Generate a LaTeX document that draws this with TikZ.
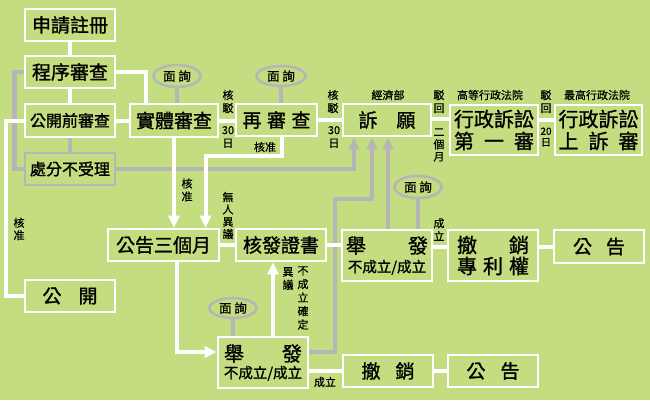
\documentclass[tikz,border=0pt]{standalone}
\usepackage{fontspec}
\setmainfont{Noto Sans CJK TC}
\newfontfamily\medfont{Noto Sans CJK TC}[FakeBold=1.2]
\newfontfamily\smfont{Noto Sans CJK TC}[FakeBold=0.5]
\usetikzlibrary{shapes.geometric,arrows.meta}
\definecolor{bg}{RGB}{195,221,128}
\definecolor{ln}{RGB}{182,182,182}
\begin{document}
\begin{tikzpicture}[x=1pt,y=-1pt,
 box/.style={draw=white,line width=2.6pt,inner sep=0pt,minimum width=90pt,minimum height=32pt,font=\medfont\fontsize{19}{22}\selectfont},
 gbox/.style={box,draw=ln},
 oval/.style={ellipse,draw=ln,line width=2.6pt,inner sep=0pt,minimum width=47pt,minimum height=22pt,font=\smfont\fontsize{12.5}{14}\selectfont},
 wl/.style={draw=white,line width=4pt},
 gl/.style={draw=ln,line width=4.5pt},
 wa/.style={wl,-{Triangle[width=11pt,length=12pt]}},
 ga/.style={gl,-{Triangle[width=10pt,length=12pt]}},
 lab/.style={inner sep=0pt,align=center,font=\smfont\fontsize{11}{13}\selectfont},
]
\fill[bg] (0,0) rectangle (650,400);
\useasboundingbox (0,0) rectangle (650,400);

% nodes
\node[box] (reg) at (70,25) {申請註冊};
\node[box] (proc) at (70,72) {程序審查};
\node[box,minimum height=33pt,font=\medfont\fontsize{16}{18}\selectfont] (pre) at (70,120.5) {公開前審查};
\node[gbox,font=\medfont\fontsize{16}{18}\selectfont] (rej) at (70,169) {處分不受理};
\node[box,minimum width=88pt,minimum height=33pt] (sub) at (174,120.5) {實體審查};
\node[box,minimum width=81pt] (re) at (276.5,120) {\makebox[68pt]{再\hfill 審\hfill 查}};
\node[box,minimum width=88pt] (app) at (387,120) {\makebox[57pt]{訴\hfill 願}};
\node[box,minimum width=88pt,minimum height=50pt,align=center,font=\medfont\fontsize{20}{22}\selectfont] (adm1) at (494,130) {行政訴訟\\\makebox[80pt]{第\hfill 一\hfill 審}};
\node[box,minimum width=87pt,minimum height=50pt,align=center,font=\medfont\fontsize{20}{22}\selectfont] (adm2) at (598.5,130) {行政訴訟\\\makebox[80pt]{上\hfill 訴\hfill 審}};
\node[box,minimum width=111pt] (ann3) at (163.5,245) {公告三個月};
\node[box] (cert) at (281,245) {核發證書};
\node[box] (pub) at (70,296) {\makebox[55pt]{公\hfill 開}};
\node[box,minimum height=51pt,align=center,font=\medfont\fontsize{20}{19}\selectfont] (inv1) at (387,255.5) {\makebox[82pt]{舉\hfill 發}\\{\fontsize{14.5}{19}\selectfont 不成立/成立}};
\node[box,minimum height=51pt,align=center,font=\medfont\fontsize{20}{21}\selectfont] (revp) at (493,255.5) {\makebox[72pt]{撤\hfill 銷}\\\makebox[72pt]{專\hfill 利\hfill 權}};
\node[box,minimum height=33pt] (ann1) at (599,246.5) {\makebox[52pt]{公\hfill 告}};
\node[box,minimum height=51pt,align=center,font=\medfont\fontsize{20}{17}\selectfont] (inv2) at (263,362.5) {\makebox[78pt]{舉\hfill 發}\\{\fontsize{14.5}{17}\selectfont 不成立/成立}};
\node[box] (rev2) at (388,371) {\makebox[53pt]{撤\hfill 銷}};
\node[box] (ann2) at (493,371) {\makebox[53pt]{公\hfill 告}};

\node[oval] (m1) at (177,76) {面 詢};
\node[oval,minimum width=49pt,minimum height=20pt] (m2) at (281,76) {面 詢};
\node[oval] (m3) at (418,187) {面 詢};
\node[oval,minimum height=20pt] (m4) at (233,308) {面 詢};

\coordinate (bend) at (335,199);

% gray connectors
\draw[gl] (pre.south) -- (rej.north);
\draw[gl] (proc.west) -- ++(-9,0) |- (rej.west);
\draw[gl] (m1.south) -- (m1.south |- sub.north);
\draw[gl] (m2.south) -- (m2.south |- re.north);
\draw[gl] (m3.south) -- (m3.south |- inv1.north);
\draw[gl] (m4.south) -- (m4.south |- inv2.north);
\draw[ga] (rej.east) -| ([xshift=-33pt]app.south);
\draw[ga] ([yshift=10.5pt]inv2.east) -| (bend) -| ([xshift=-15pt]app.south);
\draw[ga] ([xshift=1pt]inv1.north) -- ([xshift=1pt]app.south);

% white connectors
\draw[wl] (reg.south) -- (proc.north);
\draw[wl] (proc.south) -- (pre.north);
\draw[wl] (proc.east) -| ([xshift=-28pt]sub.north);
\draw[wl] (pre.east) -- (sub.west);
\draw[wl] (pre.west) -- ++(-18,0) |- (pub.west);
\draw[wl] (sub.east) -- (sub.east -| re.west);
\draw[wl] (re.east) -- (app.west);
\draw[wl] ([yshift=1pt]app.east) -- ([yshift=1pt]app.east -| adm1.west);
\draw[wl] (adm1.east |- app.east) -- (adm2.west |- app.east);
\draw[wa] (sub.south) -- (sub.south |- ann3.north);
\draw[wa] ([xshift=5pt]re.south) -- ++(0,19) -| ([xshift=42pt]ann3.north);
\draw[wl] (ann3.east) -- (cert.west);
\draw[wl] (cert.east) -- (cert.east -| inv1.west);
\draw[wl] ([yshift=8.5pt]inv1.east) -- ([yshift=8.5pt]inv1.east -| revp.west);
\draw[wl] (revp.east |- ann1.west) -- (ann1.west);
\draw[wa] ([xshift=13.5pt]ann3.south) |- ([yshift=10.5pt]inv2.west);
\draw[wa] ([xshift=10pt]inv2.north) -- ([xshift=10pt]inv2.north |- cert.south);
\draw[wl] (inv2.east |- rev2.west) -- (rev2.west);
\draw[wl] (rev2.east) -- (ann2.west);

% labels
\node[lab] (l1) at (228,101.5) {核\\駁};
\node[lab] (l2) at (228,137) {30\\日};
\node[lab] (l3) at (333,101.5) {核\\駁};
\node[lab] (l4) at (334,137) {30\\日};
\node[lab] (l5) at (265,147) {核准};
\node[lab] (l6) at (388,95) {經濟部};
\node[lab] (l7) at (439,101.5) {駁\\回};
\node[lab,font=\smfont\fontsize{11}{12.3}\selectfont] (l8) at (439,145) {二\\個\\月};
\node[lab] (l9) at (490,95) {高等行政法院};
\node[lab] (l10) at (597,95) {最高行政法院};
\node[lab] (l11) at (546,101.5) {駁\\回};
\node[lab,font=\smfont\fontsize{10}{11}\selectfont] (l12) at (546,137) {20\\日};
\node[lab] (l13) at (187,190) {核\\准};
\node[lab,font=\smfont\fontsize{11}{12.5}\selectfont] (l14) at (19,229) {核\\准};
\node[lab,font=\smfont\fontsize{11}{12.3}\selectfont] (l15) at (228,215.5) {無\\人\\異\\議};
\node[lab] (l16) at (439,229.5) {成\\立};
\node[lab] (l17) at (288,278.5) {異\\議};
\node[lab,font=\smfont\fontsize{11}{13.5}\selectfont] (l18) at (303,298) {不\\成\\立\\確\\定};
\node[lab] (l19) at (325,382) {成立};
\end{tikzpicture}
\end{document}
